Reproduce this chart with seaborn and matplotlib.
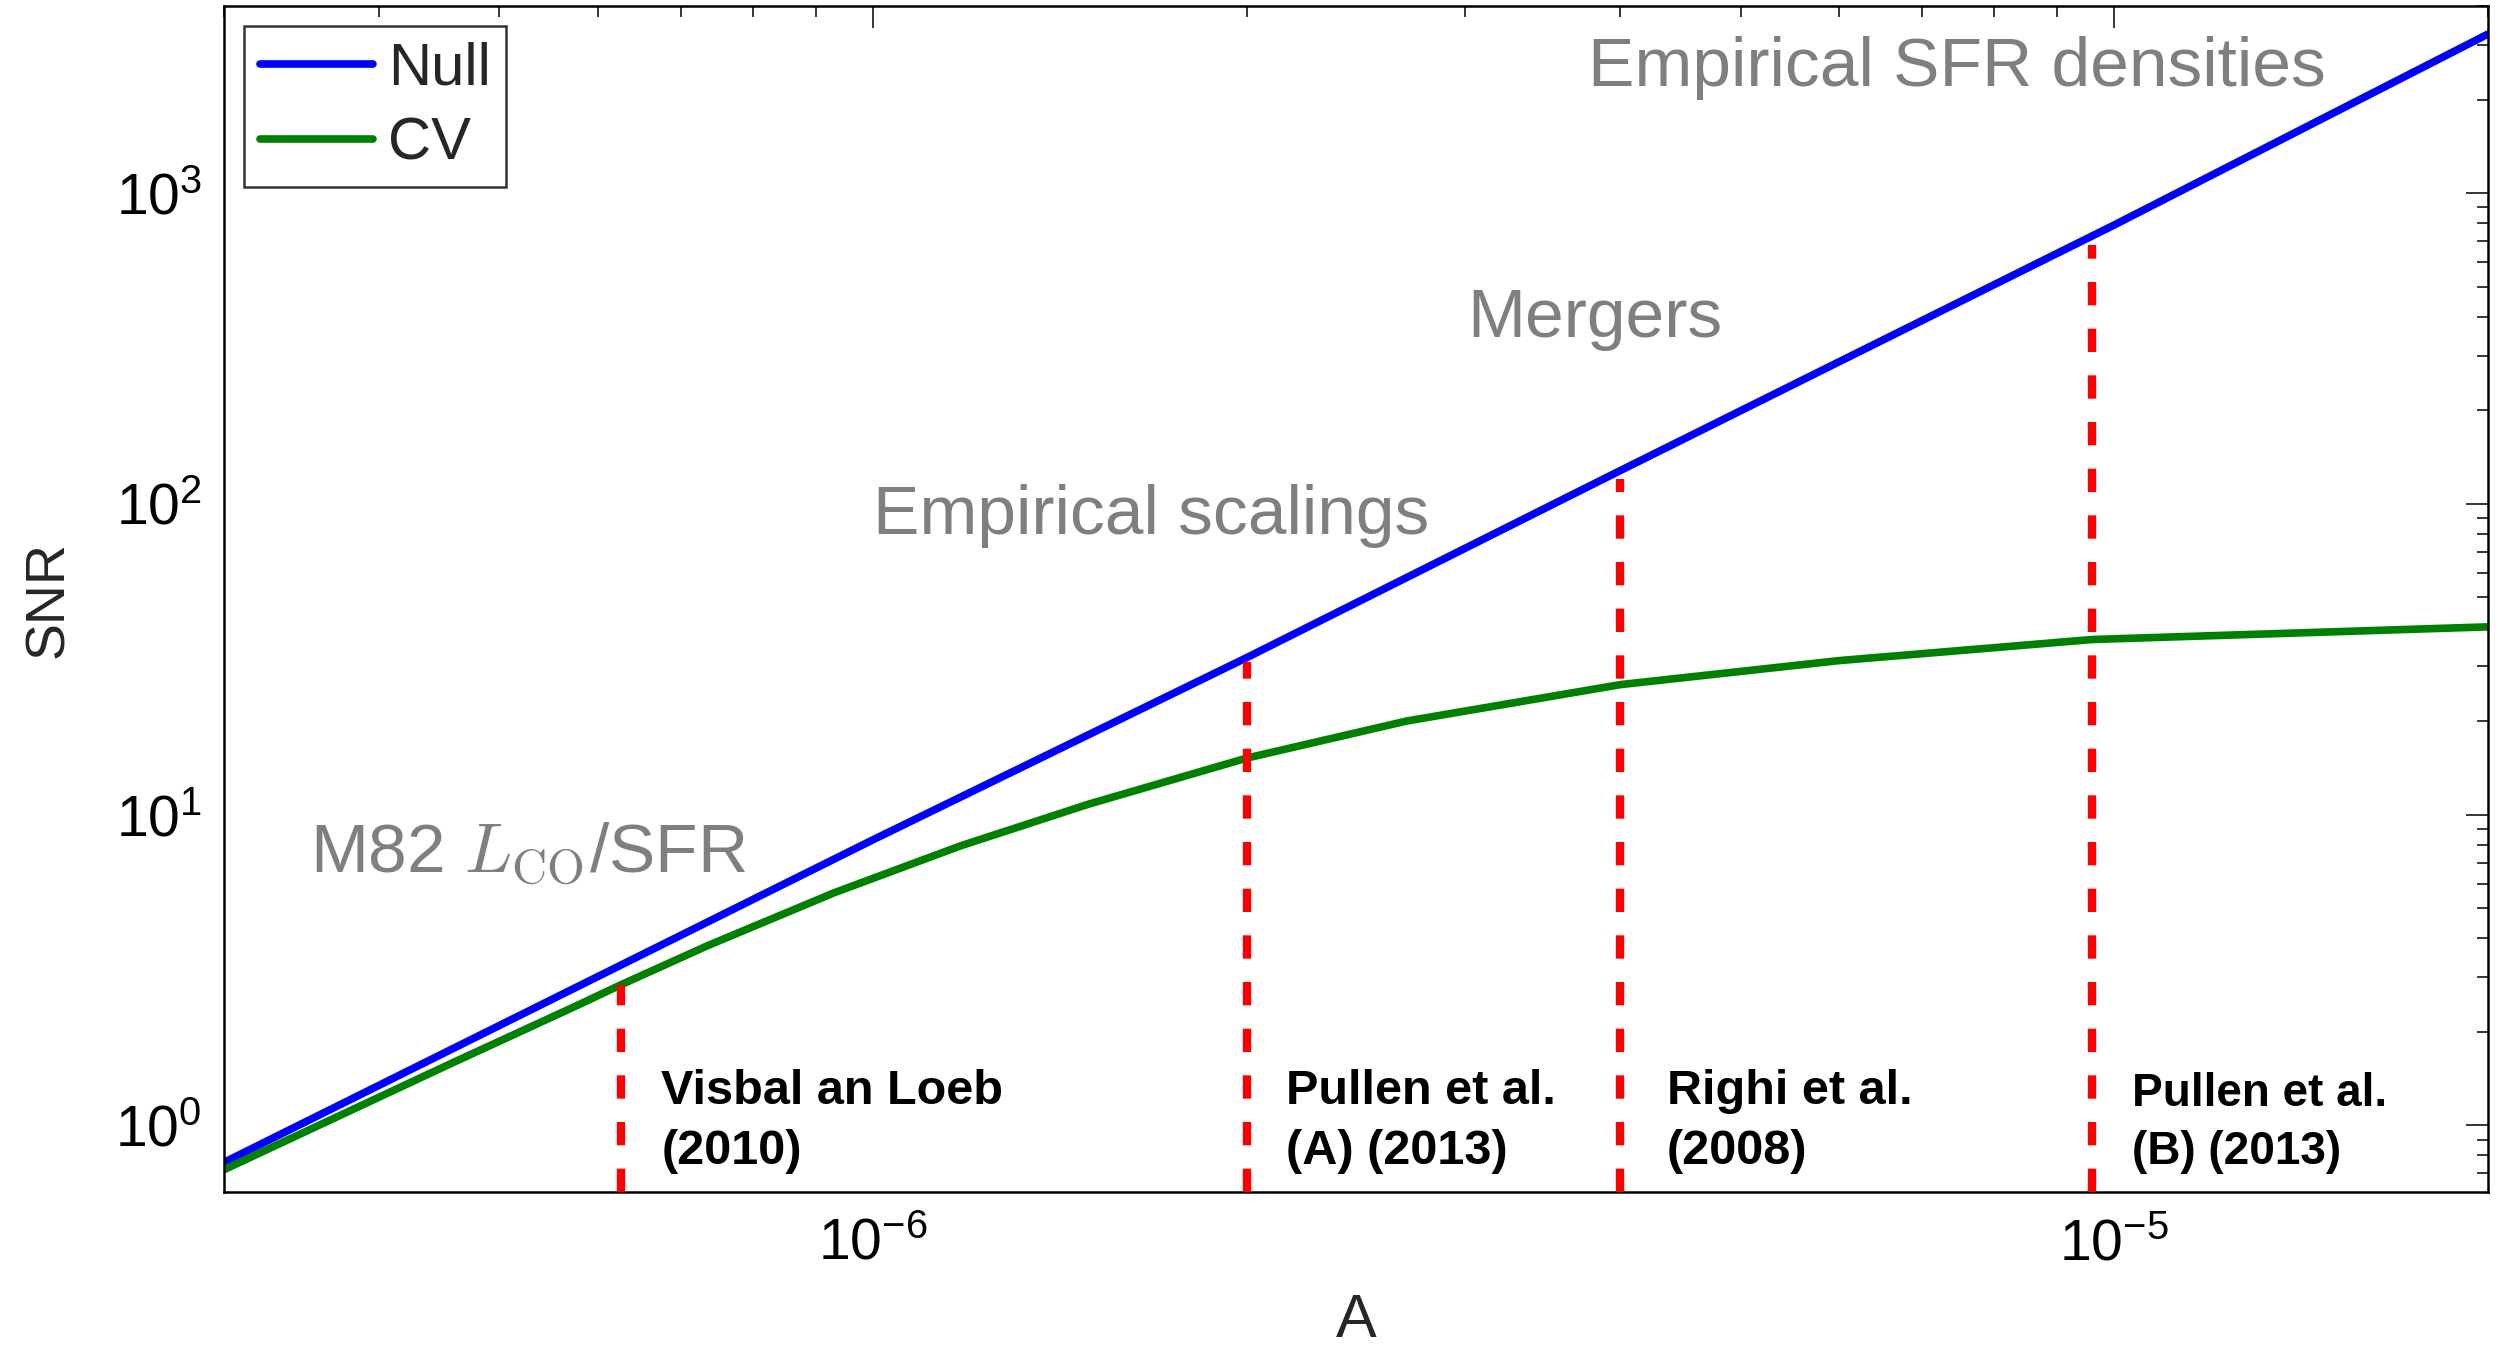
import numpy as np
import pandas as pd
import seaborn as sns
import matplotlib
matplotlib.use("Agg")
import matplotlib.pyplot as plt

# values (log-log axes)
null_A = [3.0e-7, 1.0e-6, 2.0e-6, 4.0e-6, 1.0e-5, 2.0e-5]
null_snr = [0.76, 8.3, 32.0, 128.0, 790.0, 3250.0]

cv_A = [3.0e-7, 4.58e-7, 5.8e-7, 6.26e-7, 7.35e-7, 9.3e-7, 1.177e-6, 1.491e-6,
        2.0e-6, 2.69e-6, 4.0e-6, 6.0e-6, 9.6e-6, 2.0e-5]
cv_snr = [0.72, 1.587, 2.45, 2.83, 3.78, 5.6, 7.94, 10.8,
          15.2, 20.0, 26.2, 31.3, 36.6, 40.2]

# literature estimates (red dashed markers) and how high each marker reaches
ref_A = [6.26e-7, 2.0e-6, 4.0e-6, 9.6e-6]
ref_top = [2.83, 31.0, 120.0, 680.0]
ref_labels = ["Visbal an Loeb\n(2010)", "Pullen et al.\n(A) (2013)",
              "Righi et al.\n(2008)", "Pullen et al.\n(B) (2013)"]
ref_label_A = [6.75e-7, 2.15e-6, 4.36e-6, 1.033e-5]

# grey model annotations: text, left x, baseline y
model_labels = ["Empirical SFR densities", "Mergers", "Empirical scalings",
                r"M82 $L_{\mathrm{CO}}$/SFR"]
model_A = [3.77e-6, 3.01e-6, 1.0e-6, 3.52e-7]
model_snr = [2210.0, 344.0, 79.8, 6.53]

xlim = (3.0e-7, 2.0e-5)
ylim = (0.61, 4000.0)

sns.set_style("white")
plt.rcParams["font.family"] = ["Liberation Sans", "DejaVu Sans"]
plt.rcParams["mathtext.fontset"] = "custom"
plt.rcParams["mathtext.rm"] = "Liberation Sans"
plt.rcParams["mathtext.it"] = "Liberation Sans:italic"

df = pd.concat([
    pd.DataFrame({"A": null_A, "SNR": null_snr, "curve": "Null"}),
    pd.DataFrame({"A": cv_A, "SNR": cv_snr, "curve": "CV"}),
])

fig, ax = plt.subplots(figsize=(25.09, 13.48), dpi=100)
fig.subplots_adjust(left=0.0893, right=0.9916, bottom=0.1157, top=0.9955)

sns.lineplot(data=df, x="A", y="SNR", hue="curve", palette={"Null": "#0000ff", "CV": "#008000"},
             linewidth=5.5, sort=False, ax=ax)
ax.set_xscale("log")
ax.set_yscale("log")

ax.vlines(ref_A, ylim[0], ref_top, colors="#ff0000", linewidth=6,
          linestyles=(0, (2.8, 2.8)), zorder=3)

for i in range(len(ref_labels)):
    fs = 35 if i < 3 else 33
    ax.text(ref_label_A[i], 0.75, ref_labels[i], fontsize=fs, fontweight="bold",
            ha="left", va="baseline", linespacing=1.42, color="black")

for i in range(len(model_labels)):
    ax.text(model_A[i], model_snr[i], model_labels[i], fontsize=50, color="#7f7f7f",
            ha="left", va="baseline", math_fontfamily="cm")

ax.set_xlim(xlim)
ax.set_ylim(ylim)
ax.set_xlabel("A", fontsize=44)
ax.set_ylabel("SNR", fontsize=40)
ax.xaxis.set_label_coords(0.5, -0.085)
ax.yaxis.set_label_coords(-0.066, 0.5)

ax.tick_params(which="both", direction="in", top=True, right=True, width=1.1, colors="black")
ax.tick_params(which="major", length=16, labelsize=41)
ax.tick_params(axis="x", which="major", pad=18)
ax.tick_params(axis="y", which="major", pad=16)
ax.tick_params(which="minor", length=8)
for s in ax.spines.values():
    s.set_linewidth(1.8)
    s.set_color("black")

leg = ax.legend(loc="upper left", bbox_to_anchor=(0.0088, 0.983), borderaxespad=0,
                fontsize=43, frameon=True, fancybox=False, edgecolor="black",
                handlelength=1.9, handletextpad=0.25, labelspacing=0.33, borderpad=0.26)
leg.get_frame().set_linewidth(1.8)
leg.set_title(None)

plt.savefig("out.png", dpi=100)
plt.close()
